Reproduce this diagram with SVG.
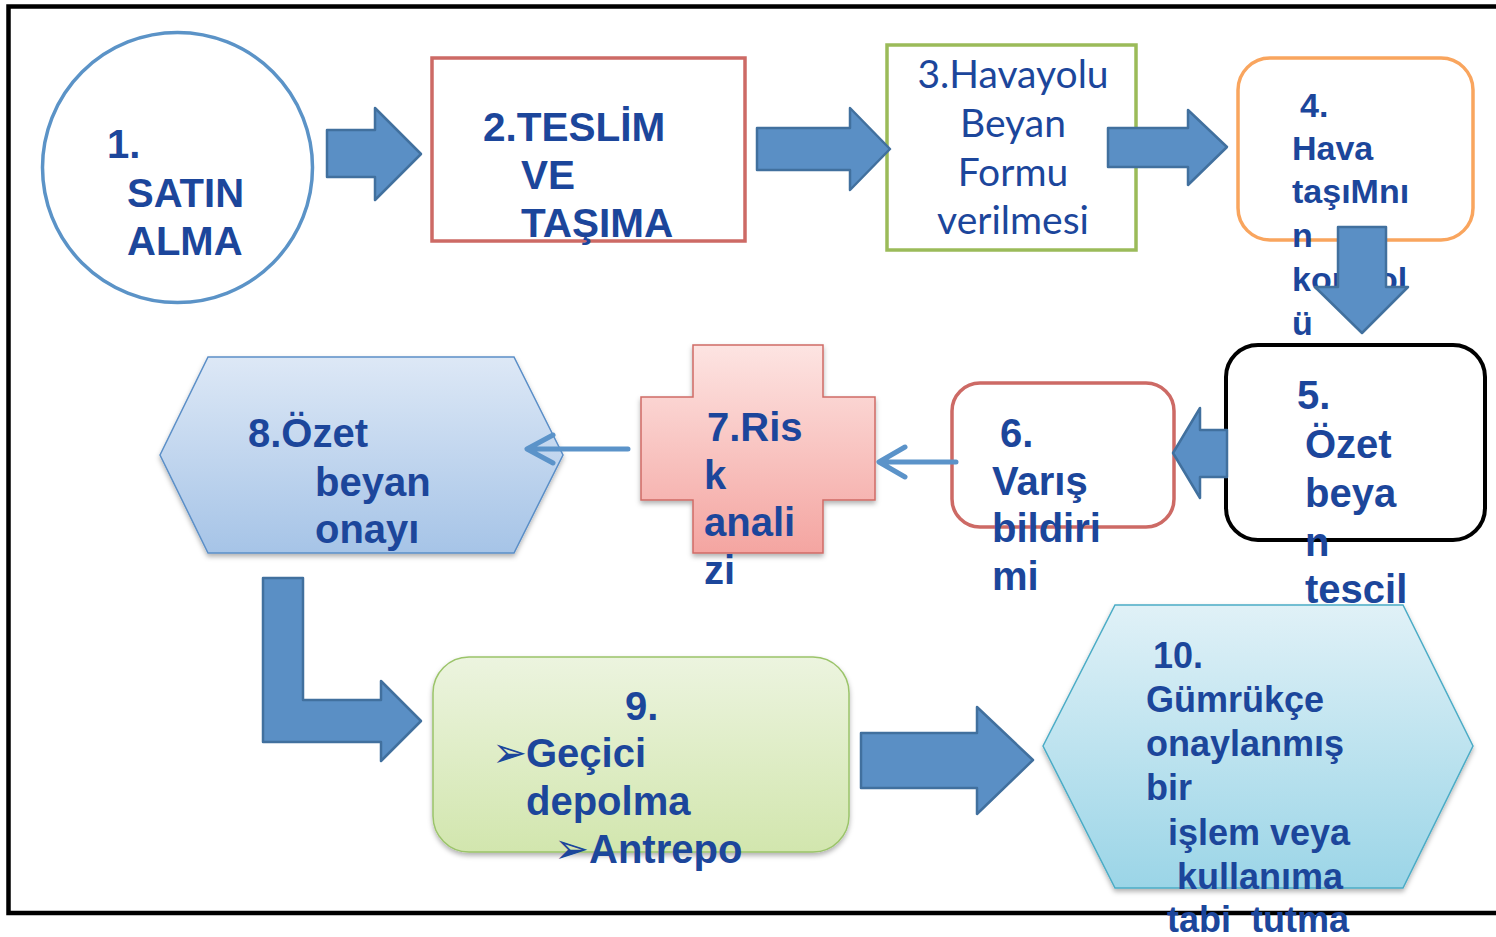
<svg xmlns="http://www.w3.org/2000/svg" width="1496" height="937" viewBox="0 0 1496 937">
<defs>
<style>
.t{font-family:"Liberation Sans",Arial,sans-serif;font-weight:bold;fill:#1c469b}
.t3{font-family:"Lato","Open Sans",sans-serif;font-weight:normal;fill:#1c469b;text-anchor:middle}
.blk{fill:#5a8fc5;stroke:#41709e;stroke-width:2.5;stroke-linejoin:round}
.thin{fill:none;stroke:#5b93c9;stroke-width:5;stroke-linecap:round;stroke-linejoin:round}
</style>
<linearGradient id="g7" x1="0" y1="0" x2="0" y2="1"><stop offset="0" stop-color="#fde4e2"/><stop offset="1" stop-color="#f4a5a1"/></linearGradient>
<linearGradient id="g8" x1="0" y1="0" x2="0" y2="1"><stop offset="0" stop-color="#dde8f6"/><stop offset="1" stop-color="#a6c4e7"/></linearGradient>
<linearGradient id="g9" x1="0" y1="0" x2="0" y2="1"><stop offset="0" stop-color="#ecf4df"/><stop offset="1" stop-color="#d2e6ae"/></linearGradient>
<linearGradient id="g10" x1="0" y1="0" x2="0" y2="1"><stop offset="0" stop-color="#e0f1f7"/><stop offset="1" stop-color="#9bd5e7"/></linearGradient>
<filter id="sh" x="-10%" y="-10%" width="120%" height="125%"><feDropShadow dx="0" dy="3" stdDeviation="2.5" flood-color="#000" flood-opacity="0.3"/></filter>
</defs>
<rect x="8.5" y="6.5" width="1500" height="906.5" fill="#fff" stroke="#000" stroke-width="4.5"/>

<g id="node1">
<circle cx="177.5" cy="167.5" r="135" fill="#fff" stroke="#5b93c7" stroke-width="3.5"/>
<text class="t" font-size="40"><tspan x="107" y="158">1.</tspan><tspan x="127" y="207">SATIN</tspan><tspan x="127" y="255">ALMA</tspan></text>
</g>

<g id="node2">
<rect x="432" y="58" width="313" height="183" fill="#fff" stroke="#cd6a65" stroke-width="3.5"/>
<text class="t" font-size="40.5"><tspan x="483" y="141">2.TESLİM</tspan><tspan x="521" y="189">VE</tspan><tspan x="521" y="237">TAŞIMA</tspan></text>
</g>

<g id="node3">
<rect x="887" y="45" width="249" height="205" fill="#fff" stroke="#9bbb59" stroke-width="3.5"/>
<text class="t3" font-size="39"><tspan x="1013" y="88">3.Havayolu</tspan><tspan x="1013" y="137">Beyan</tspan><tspan x="1013" y="186">Formu</tspan><tspan x="1013" y="234">verilmesi</tspan></text>
</g>

<g id="node4">
<rect x="1238" y="58" width="235" height="182" rx="32" fill="#fff" stroke="#f9a55e" stroke-width="3.5"/>
<text class="t" font-size="34"><tspan x="1300" y="117">4.</tspan><tspan x="1292" y="160">Hava</tspan><tspan x="1292" y="203">taşıMnı</tspan><tspan x="1292" y="247">n</tspan><tspan x="1292" y="291">kontrol</tspan><tspan x="1292" y="335">ü</tspan></text>
</g>

<g id="node5">
<rect x="1226" y="345" width="259" height="195" rx="32" fill="#fff" stroke="#000" stroke-width="4"/>
<text class="t" font-size="40"><tspan x="1297" y="409">5.</tspan><tspan x="1305" y="458">Özet</tspan><tspan x="1305" y="507">beya</tspan><tspan x="1305" y="556">n</tspan><tspan x="1305" y="603">tescil</tspan></text>
</g>

<g id="node6">
<rect x="952" y="383" width="222" height="144" rx="28" fill="#fff" stroke="#cd6a65" stroke-width="3.5"/>
<text class="t" font-size="40"><tspan x="1000" y="447">6.</tspan><tspan x="992" y="495">Varış</tspan><tspan x="992" y="542">bildiri</tspan><tspan x="992" y="590">mi</tspan></text>
</g>

<g id="node7">
<path d="M693,345 H823 V397 H875 V500 H823 V553 H693 V500 H641 V397 H693 Z" fill="url(#g7)" stroke="#d06b66" stroke-width="1.5" filter="url(#sh)"/>
<text class="t" font-size="40"><tspan x="707" y="441">7.Ris</tspan><tspan x="704" y="489">k</tspan><tspan x="704" y="536">anali</tspan><tspan x="704" y="584">zi</tspan></text>
</g>

<g id="node8">
<path d="M160,455 L208,357 H514 L563,455 L514,553 H208 Z" fill="url(#g8)" stroke="#5b8fc7" stroke-width="1.5" filter="url(#sh)"/>
<text class="t" font-size="40"><tspan x="248" y="447">8.Özet</tspan><tspan x="315" y="496">beyan</tspan><tspan x="315" y="543">onayı</tspan></text>
</g>

<g id="node9">
<rect x="433" y="657" width="416" height="195" rx="36" fill="url(#g9)" stroke="#9bc46a" stroke-width="1.5" filter="url(#sh)"/>
<text class="t" font-size="40"><tspan x="625" y="720">9.</tspan><tspan x="526" y="767">Geçici</tspan><tspan x="526" y="815">depolma</tspan><tspan x="589" y="863">Antrepo</tspan></text>
<text font-family="DejaVu Sans,sans-serif" font-size="42" fill="#1c469b"><tspan x="492" y="767">➢</tspan><tspan x="554" y="863">➢</tspan></text>
</g>

<g id="node10">
<path d="M1043,746 L1115,605 H1403 L1473,746 L1403,888 H1115 Z" fill="url(#g10)" stroke="#4bacc6" stroke-width="1.5" filter="url(#sh)"/>
<text class="t" font-size="36"><tspan x="1153" y="668">10.</tspan><tspan x="1146" y="712">Gümrükçe</tspan><tspan x="1146" y="756">onaylanmış</tspan><tspan x="1146" y="800">bir</tspan><tspan x="1168" y="845">işlem veya</tspan><tspan x="1177" y="889">kullanıma</tspan><tspan x="1167" y="932" xml:space="preserve">tabi  tutma</tspan></text>
</g>

<g id="connectors">
<path class="blk" d="M327,130 L375,130 L375,108 L421,154 L375,200 L375,177 L327,177 Z"/>
<path class="blk" d="M757,128 L850,128 L850,108 L890,149 L850,190 L850,170 L757,170 Z"/>
<path class="blk" d="M1108,128 L1188,128 L1188,110 L1227,147 L1188,185 L1188,167 L1108,167 Z"/>
<path class="blk" d="M1338,227 L1386,227 L1386,287 L1408,287 L1362,333 L1315,287 L1338,287 Z"/>
<path class="blk" d="M1227,430 L1200,430 L1200,408 L1173,453 L1200,498 L1200,477 L1227,477 Z"/>
<path class="thin" d="M956,462 H880 M905,447 L879,462 L905,477"/>
<path class="thin" d="M628,449 H528 M553,435 L527,449 L553,463"/>
<path class="blk" d="M263,578 L303,578 L303,700 L381,700 L381,681 L421,721 L381,761 L381,742 L263,742 Z"/>
<path class="blk" d="M861,733 L977,733 L977,707 L1033,760 L977,814 L977,788 L861,788 Z"/>
</g>
</svg>
